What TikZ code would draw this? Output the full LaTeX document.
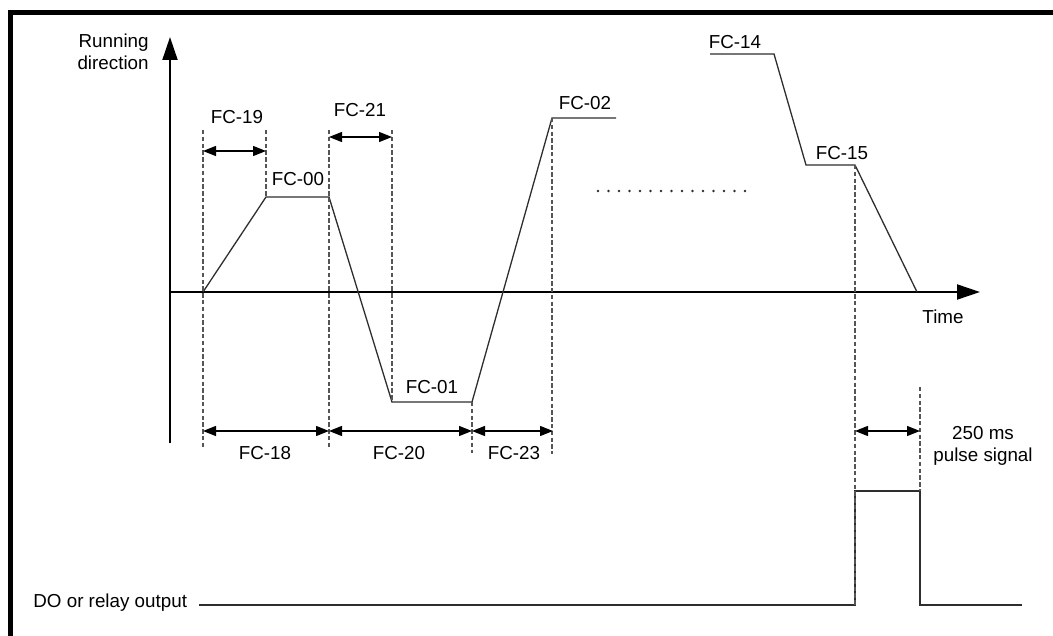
\documentclass[tikz,border=0pt]{standalone}
\usepackage{fontspec}
\setmainfont{Liberation Sans}
\usetikzlibrary{arrows.meta,positioning,calc}
\definecolor{cTrace}{HTML}{2E2E2E}
\definecolor{cGuide}{HTML}{555555}

\begin{document}
\begin{tikzpicture}[
    x=0.5pt, y=-0.5pt,
    lbl/.style={font=\fontsize{9.4}{11}\selectfont, inner sep=0pt, align=center},
    trace/.style={cTrace, line width=0.65pt},
    guide/.style={cGuide, line width=0.6pt, dash pattern=on 2.2pt off 1.2pt},
    axis/.style={-{Triangle[length=11.5pt,width=7.5pt]}, line width=1pt},
    span/.style={{Triangle[length=6.5pt,width=5pt]}-{Triangle[length=6.5pt,width=5pt]}, line width=0.6pt}
]
\useasboundingbox (0,0) rectangle (1053,636);
\draw[line width=2.5pt] (10.5,636) -- (10.5,12.5) -- (1053,12.5);

% axes
\coordinate (ybot) at (170,443);
\coordinate (ytip) at (170,37);
\coordinate (org)  at (170,292);
\coordinate (xtip) at (980,292);
\draw[axis] (ybot) -- (ytip);
\draw[axis] (org) -- (xtip);
\node[lbl, anchor=east, align=right] (ylab) at (149,52) {Running\\direction};
\node[lbl] (xlab) at (943,317) {Time};

% speed profile
\foreach \n/\x/\y in {p0/203/292, p1/266/197, p2/329/197, p3/392/402, p4/472/402, p5/552/118, p6/616/118,
                     q0/710/54, q1/774/54, q2/806/165, q3/855/165, q4/917/292} {
  \coordinate (\n) at (\x,\y);
}
\draw[trace] (p0) -- (p1) -- (p2) -- (p3) -- (p4) -- (p5) -- (p6);
\draw[trace] (q0) -- (q1) -- (q2) -- (q3) -- (q4);
\foreach \i in {0,...,14} {
  \fill[cTrace] (598+\i*10.5,191) circle (0.7pt);
}

% DO output
\foreach \n/\x/\y in {r0/199/605, r1/855/605, r2/855/491, r3/920/491, r4/920/605, r5/1022/605} {
  \coordinate (\n) at (\x,\y);
}
\draw[trace] (r0) -- (r1) -- (r2) -- (r3) -- (r4) -- (r5);
\node[lbl, anchor=west] (dolab) at (33,603) {DO or relay output};

% guide lines
\foreach \n/\x/\ya/\yb in {g1/203/130/447, g2/266/130/197, g3/329/130/447, g4/392/130/402,
                          g5/472/402/453, g6/552/118/454, g7/855/165/605, g8/920/387/491} {
  \coordinate (\n a) at (\x,\ya);
  \coordinate (\n b) at (\x,\yb);
  \draw[guide] (\n a) -- (\n b);
}

% time spans
\foreach \n/\xa/\xb/\y in {s19/203/266/151, s21/329/392/137, s18/203/329/431,
                          s20/329/472/431, s23/472/553/431, spl/855/920/431} {
  \coordinate (\n a) at (\xa,\y);
  \coordinate (\n b) at (\xb,\y);
  \draw[span] (\n a) -- (\n b);
}

% labels
\node[lbl] (fc19) at (237,117) {FC-19};
\node[lbl] (fc21) at (360,110) {FC-21};
\node[lbl] (fc00) at (298,179) {FC-00};
\node[lbl] (fc01) at (432,387) {FC-01};
\node[lbl] (fc02) at (585,103) {FC-02};
\node[lbl] (fc14) at (735,42)  {FC-14};
\node[lbl] (fc15) at (842,153) {FC-15};
\node[lbl] (fc18) at (265,453) {FC-18};
\node[lbl] (fc20) at (399,453) {FC-20};
\node[lbl] (fc23) at (514,453) {FC-23};
\node[lbl] (pulse) at (983,446) {250 ms\\pulse signal};
\end{tikzpicture}
\end{document}
